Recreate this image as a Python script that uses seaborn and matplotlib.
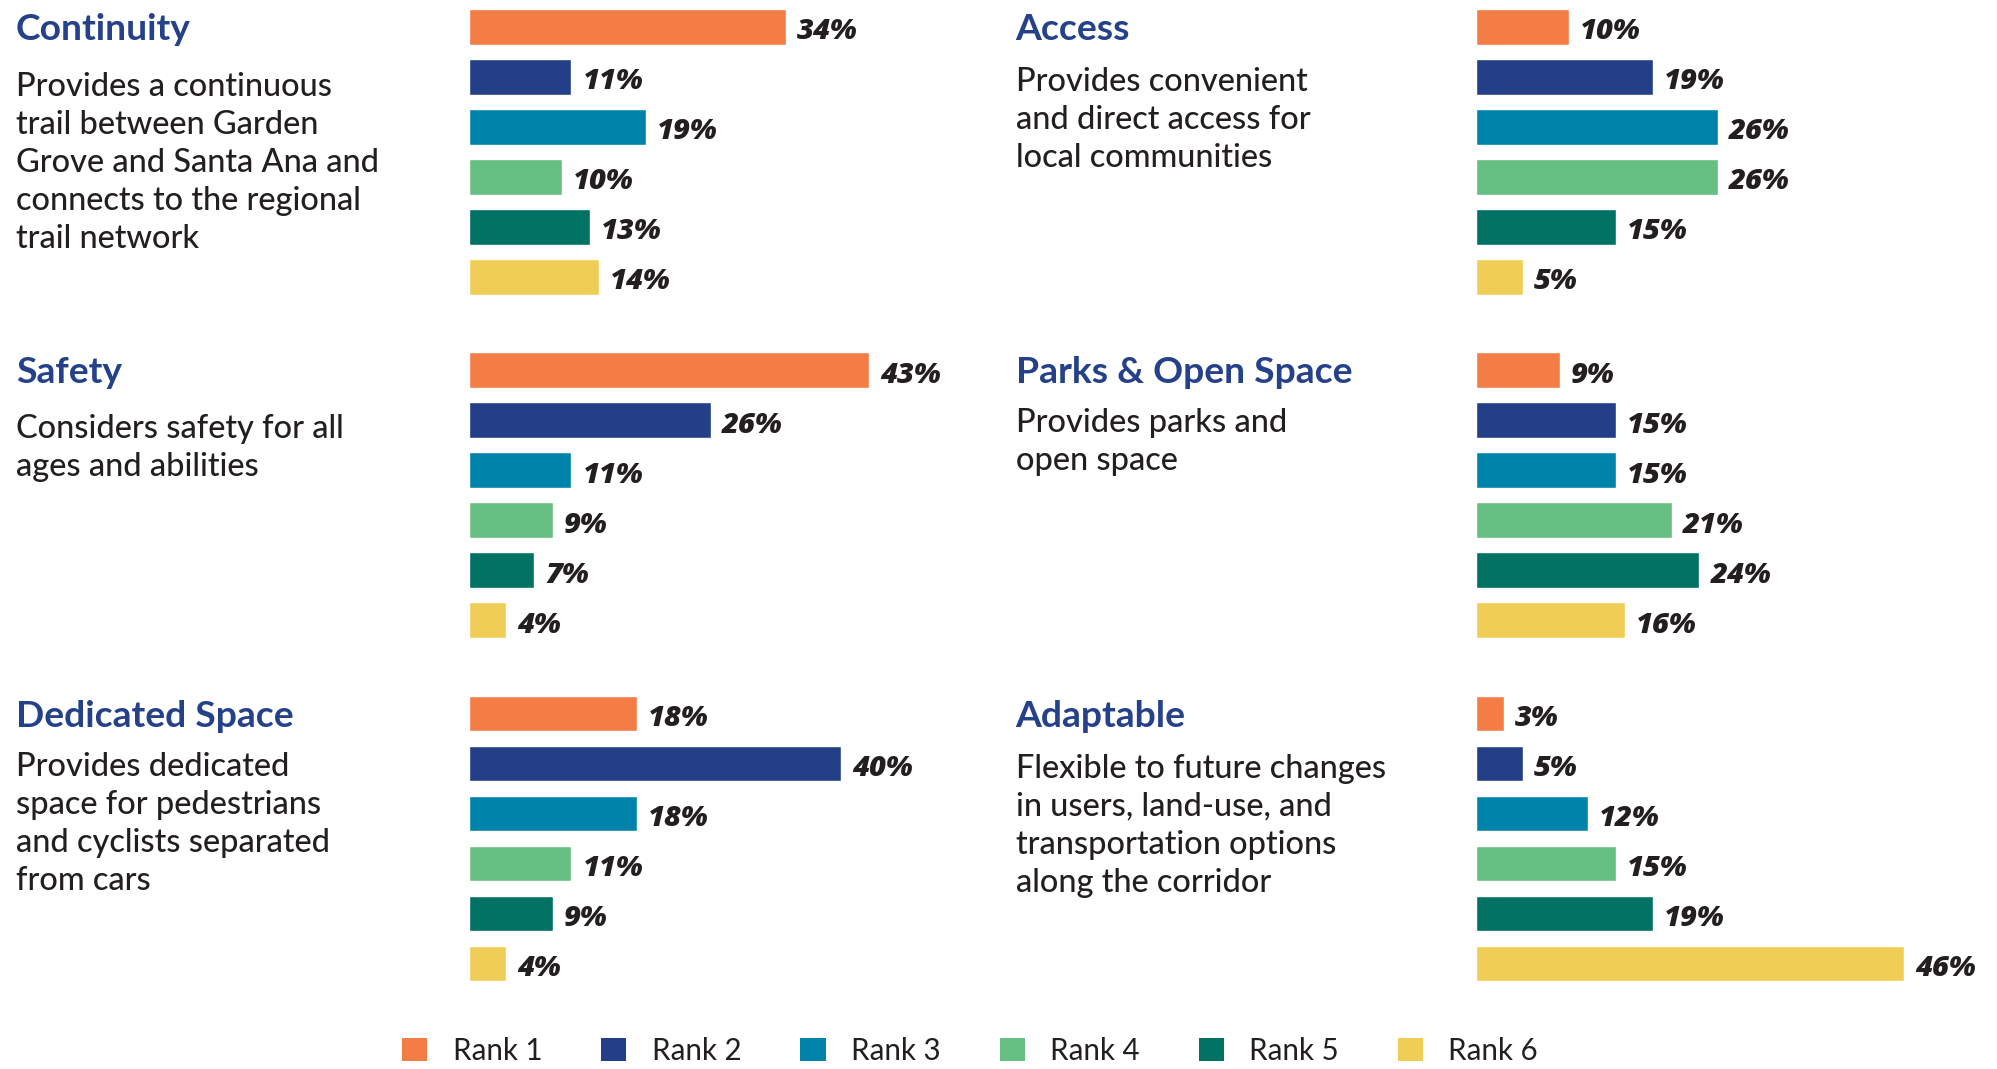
import pandas as pd
import matplotlib.pyplot as plt
import seaborn as sns
from matplotlib.patches import Patch

# valores (% por posicao no ranking)
criterios = ['Continuity', 'Access', 'Safety', 'Parks & Open Space', 'Dedicated Space', 'Adaptable']
descricoes = [
    ['Provides a continuous', 'trail between Garden', 'Grove and Santa Ana and',
     'connects to the regional', 'trail network'],
    ['Provides convenient', 'and direct access for', 'local communities'],
    ['Considers safety for all', 'ages and abilities'],
    ['Provides parks and', 'open space'],
    ['Provides dedicated', 'space for pedestrians', 'and cyclists separated', 'from cars'],
    ['Flexible to future changes', 'in users, land-use, and', 'transportation options',
     'along the corridor'],
]
ranks = ['Rank 1', 'Rank 2', 'Rank 3', 'Rank 4', 'Rank 5', 'Rank 6']
continuity = [34, 11, 19, 10, 13, 14]
access = [10, 19, 26, 26, 15, 5]
safety = [43, 26, 11, 9, 7, 4]
parks = [9, 15, 15, 21, 24, 16]
dedicated = [18, 40, 18, 11, 9, 4]
adaptable = [3, 5, 12, 15, 19, 46]

cores = ['#f47c45', '#233f88', '#0083aa', '#66bf83', '#007264', '#f0ce55']
azul_titulo = '#24418a'
texto = '#231f20'

valores = [continuity, access, safety, parks, dedicated, adaptable]
linhas = []
for crit, vals in zip(criterios, valores):
    for r, v in zip(ranks, vals):
        linhas.append({'criterio': crit, 'rank': r, 'pct': v})
df = pd.DataFrame(linhas)

sns.set_style('white')
plt.rcParams['font.family'] = ['Lato', 'DejaVu Sans']

W, H, DPI = 1997, 1069, 100
fig = plt.figure(figsize=(W / DPI, H / DPI), dpi=DPI)

def fx(px):
    return px / W

def fy(py):
    return 1 - py / H

def pt(px):
    return px * 72 / DPI

# layout em pixels
x_barras = [469, 1476]
x_texto = [15.7, 1015.7]
passo_linha = 343.3
topo_eixo = 1.8
alt_eixo = 300
larg_eixo = 465.5
gap_desc = [55.7, 51, 55, 49, 49.5, 51]

for i, crit in enumerate(criterios):
    lin, col = divmod(i, 2)
    topo = topo_eixo + lin * passo_linha
    ax = fig.add_axes([fx(x_barras[col]), fy(topo + alt_eixo), larg_eixo / W, alt_eixo / H])
    sub = df[df['criterio'] == crit]
    sns.barplot(data=sub, x='pct', y='rank', hue='rank', order=ranks, hue_order=ranks,
                palette=cores, legend=False, width=0.714, saturation=1, ax=ax)
    ax.set_xlim(0, 50)
    ax.set_ylim(5.5, -0.5)
    for p, v in zip(ax.patches, sub['pct']):
        ax.annotate(f'{v}%', xy=(p.get_width(), p.get_y() + p.get_height() / 2),
                    xytext=(pt(11), pt(-12.5)), textcoords='offset points',
                    ha='left', va='baseline', fontsize=pt(29.3), fontweight='heavy',
                    style='italic', color=texto, family=['Open Sans', 'DejaVu Sans'])
    ax.axis('off')

    base_titulo = 40 + lin * passo_linha
    fig.text(fx(x_texto[col]), fy(base_titulo), crit, ha='left', va='baseline',
             fontsize=pt(37.2), fontweight='bold', color=azul_titulo)
    base = base_titulo + gap_desc[i]
    for k, linha in enumerate(descricoes[i]):
        fig.text(fx(x_texto[col]), fy(base + k * 38), linha, ha='left', va='baseline',
                 fontsize=pt(32.5), fontweight='medium', color=texto)

handles = [Patch(facecolor=c, edgecolor='none', label=r) for c, r in zip(cores, ranks)]
fs_leg = pt(29.5)
fig.legend(handles=handles, loc='center', bbox_to_anchor=(fx(970), fy(1051)), ncol=6,
           frameon=False, fontsize=fs_leg, handlelength=0.85, handleheight=0.81,
           handletextpad=0.86, columnspacing=2.0, borderpad=0, borderaxespad=0,
           labelcolor=texto)

fig.savefig('out.png', dpi=DPI)
